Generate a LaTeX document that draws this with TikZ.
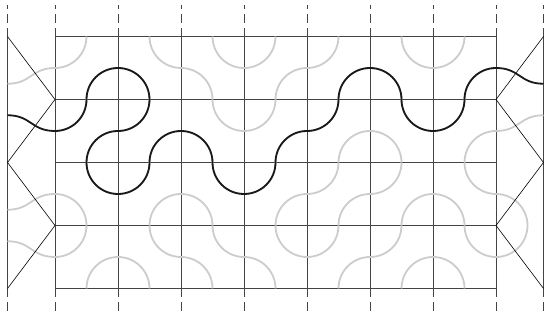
\documentclass[tikz,border=0pt]{standalone}
\definecolor{arcgray}{HTML}{CCCCCC}
\definecolor{gridcol}{HTML}{444444}
\begin{document}
\begin{tikzpicture}[x=1pt,y=1pt,
  gridline/.style={draw=gridcol,line width=0.8pt},
  dashline/.style={draw=gridcol,line width=0.8pt,dash pattern=on 8.5pt off 5.3pt},
  diag/.style={draw=black,line width=0.6pt},
  grayarc/.style={draw=arcgray,line width=1.8pt},
  blackarc/.style={draw=black!90,line width=1.8pt}]
\useasboundingbox (0,0) rectangle (544,321);
% vertical lines
\foreach \x in {7.5,55,118,181,244,307,370,433,496,543.5}{
  \draw[gridline] (\x,32.5) -- (\x,284.5);
  \draw[dashline] (\x,284.5) -- (\x,316);
  \draw[dashline] (\x,32.5) -- (\x,5);
}
% horizontal lines
\foreach \y in {284.5,221.5,158.5,95.5,32.5}{
  \draw[gridline] (55,\y) -- (496,\y);
}
% Truchet arcs (0: TL+BR, 1: TR+BL)
\foreach \row [count=\j from 0] in {{0,1,1,0,0,1,0},{0,0,1,0,0,1,0},{1,0,1,0,0,0,1},{0,1,1,1,0,0,1}}{
  \foreach \t [count=\i from 0] in \row {
    \pgfmathsetmacro\xa{55+63*\i}
    \pgfmathsetmacro\ya{284.5-63*\j}
    \ifnum\t=0
      \draw[grayarc] (\xa+31.5,\ya) arc (0:-90:31.5);
      \draw[grayarc] (\xa+31.5,\ya-63) arc (180:90:31.5);
    \else
      \draw[grayarc] (\xa+31.5,\ya) arc (180:270:31.5);
      \draw[grayarc] (\xa,\ya-31.5) arc (90:0:31.5);
    \fi
  }
}
% gray margin curves
\draw[grayarc] (7.5,237.25) .. controls (31.25,237.25) and (31.25,253) .. (55,253);
\draw[grayarc] (7.5,111.25) .. controls (31.25,111.25) and (31.25,127) .. (55,127);
\draw[grayarc] (7.5,79.75) .. controls (31.25,79.75) and (31.25,64) .. (55,64);
\draw[grayarc] (496,190) .. controls (519.75,190) and (519.75,205.75) .. (543.5,205.75);
\draw[grayarc] (496,127) arc (90:-90:31.5);
% diagonals
\draw[diag] (7.5,284.5) -- (55,221.5) -- (7.5,158.5) -- (55,95.5) -- (7.5,32.5);
\draw[diag] (543.5,284.5) -- (496,221.5) -- (543.5,158.5) -- (496,95.5) -- (543.5,32.5);
% black path
\draw[blackarc] (7.5,205.75) .. controls (31.25,205.75) and (31.25,190) .. (55,190)
  arc (-90:0:31.5)
  arc (180:-90:31.5)
  arc (90:360:31.5)
  arc (180:0:31.5)
  arc (180:360:31.5)
  arc (180:90:31.5)
  arc (270:360:31.5)
  arc (180:0:31.5)
  arc (180:360:31.5)
  arc (180:90:31.5)
  .. controls (519.75,253) and (519.75,237.25) .. (543.5,237.25);
\end{tikzpicture}
\end{document}
